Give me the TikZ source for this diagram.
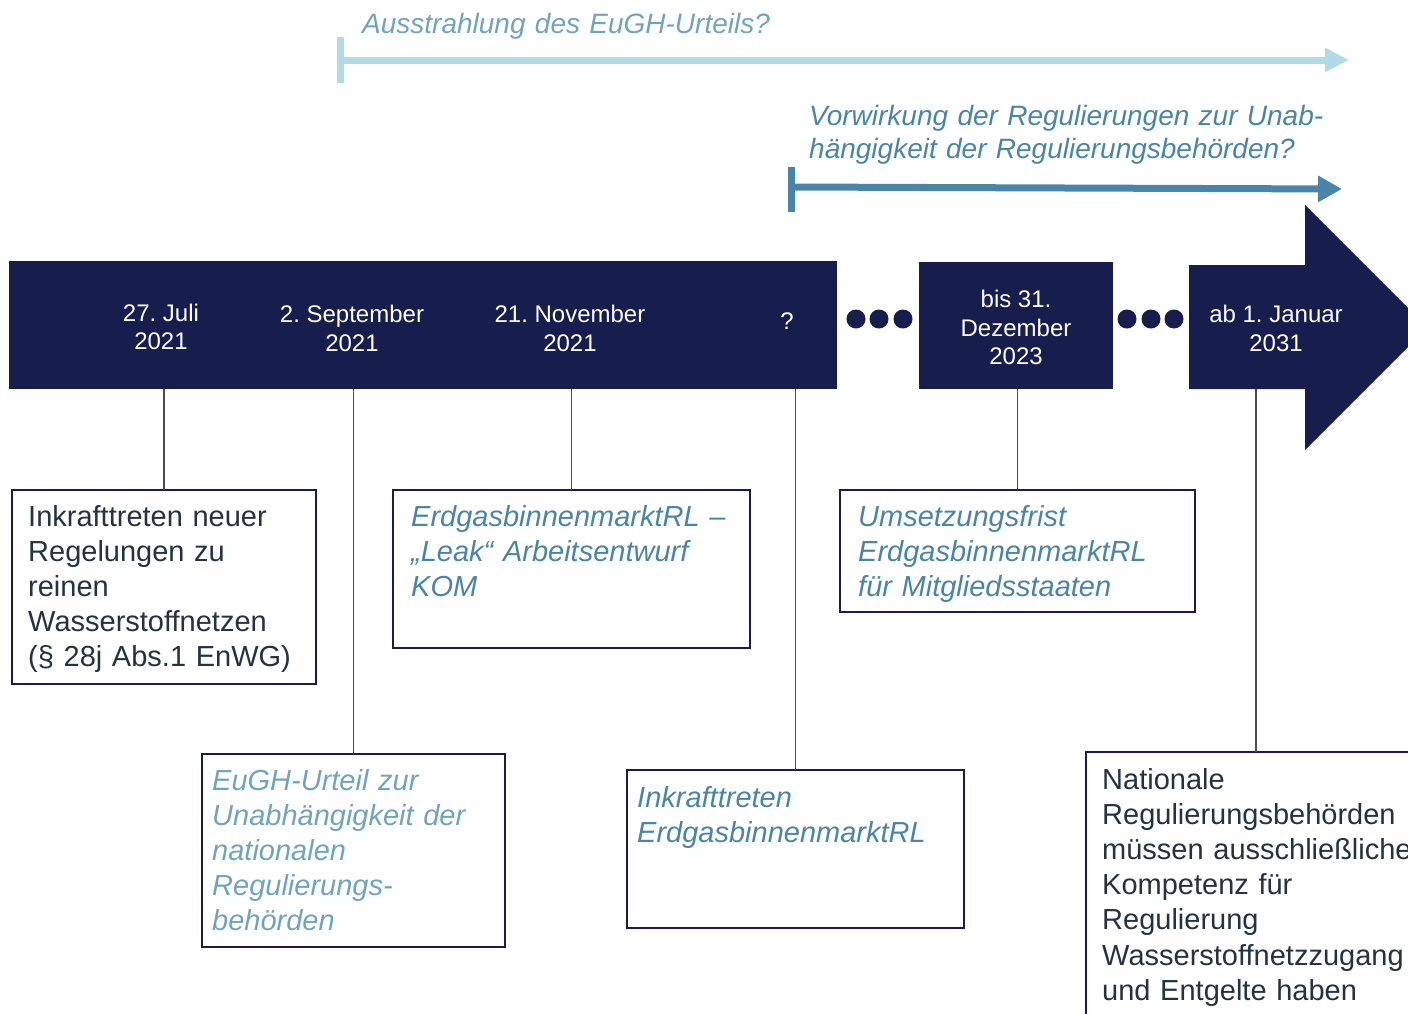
\documentclass[tikz,border=0pt]{standalone}
\usepackage{fontspec}
\setmainfont{Liberation Sans}
\usetikzlibrary{arrows.meta,calc}
\definecolor{navy}{RGB}{23,29,77}
\definecolor{lightline}{RGB}{176,218,230}
\definecolor{ltext}{RGB}{111,164,189}
\definecolor{medblue}{RGB}{72,133,168}
\definecolor{darktext}{RGB}{36,50,66}
\definecolor{conngray}{RGB}{70,76,92}
\frenchspacing
\begin{document}
\begin{tikzpicture}[x=1pt,y=-1pt,
  barbox/.style={fill=navy, draw=none, inner sep=0pt, outer sep=0pt, anchor=north west},
  datetext/.style={text=white, font=\fontsize{24}{28.8}\selectfont, align=center, inner sep=0pt},
  framebox/.style={draw=navy, line width=2.5pt, fill=white, anchor=north west, inner sep=0pt, outer sep=0pt},
  btext/.style={anchor=base west, inner sep=0pt, text width=420pt, align=left, font=\fontsize{29}{35.2}\selectfont},
  bitext/.style={btext, font=\fontsize{29}{35.2}\selectfont\itshape},
  conn/.style={draw=conngray, line width=1.3pt},
  dotnode/.style={circle, fill=navy, draw=none, minimum size=19pt, inner sep=0pt},
  toplabel/.style={anchor=base west, inner sep=0pt, text width=620pt, align=left, font=\fontsize{28}{33.5}\selectfont\itshape}
]
\useasboundingbox (0,0) rectangle (1408,1013);
\clip (0,0) rectangle (1408,1013);

% top arrows
\coordinate (a1s) at (340,60);
\coordinate (a1e) at (1349,60);
\coordinate (a1t) at (340,37);
\coordinate (a1b) at (340,83);
\draw[lightline, line width=7pt, -{Triangle[length=24pt,width=23pt]}] (a1s) -- (a1e);
\draw[lightline, line width=7pt] (a1t) -- (a1b);
\node[toplabel, text=ltext] (lab1) at (362,33) {Ausstrahlung des EuGH-Urteils?};

\coordinate (a2s) at (791,187);
\coordinate (a2e) at (1342,189);
\coordinate (a2t) at (791,167);
\coordinate (a2b) at (791,212);
\draw[medblue, line width=7pt, -{Triangle[length=24pt,width=25pt]}] (a2s) -- (a2e);
\draw[medblue, line width=7pt] (a2t) -- (a2b);
\node[toplabel, text=medblue] (lab2) at (809,125) {Vorwirkung der Regulierungen zur Unab-\\hängigkeit der Regulierungsbehörden?};

% timeline bar
\node[barbox, minimum width=828pt, minimum height=128pt] (bar) at (9,261) {};
\node[barbox, minimum width=194pt, minimum height=127pt] (bar2023) at (919,262) {};
\fill[navy] (1189,265) -- (1305,265) -- (1305,205) -- (1427.5,327.5) -- (1305,450) -- (1305,389) -- (1189,389) -- cycle;
\coordinate (arrowbot) at (1256,389);

\node[dotnode] (p1) at (856,319) {};
\node[dotnode] (p2) at (879,319) {};
\node[dotnode] (p3) at (903,319) {};
\node[dotnode] (p4) at (1127,319) {};
\node[dotnode] (p5) at (1151,319) {};
\node[dotnode] (p6) at (1174,319) {};

\node[datetext] (d1) at (161,327) {27. Juli\\2021};
\node[datetext] (d2) at (352,328.5) {2. September\\2021};
\node[datetext] (d3) at (570,328.5) {21. November\\2021};
\node[datetext] (d4) at (787,321) {?};
\node[datetext] (d5) at (1016,327.5) {bis 31.\\Dezember\\2023};
\node[datetext] (d6) at (1276,328.5) {ab 1. Januar\\2031};

% boxes
\node[framebox, minimum width=304pt, minimum height=194pt] (b1) at (12,490) {};
\node[framebox, minimum width=303pt, minimum height=193pt] (b2) at (202,754) {};
\node[framebox, minimum width=357pt, minimum height=158pt] (b3) at (393,490) {};
\node[framebox, minimum width=337pt, minimum height=158pt] (b4) at (627,770) {};
\node[framebox, minimum width=355pt, minimum height=122pt] (b5) at (840,490) {};
\node[framebox, minimum width=340pt, minimum height=300pt] (b6) at (1086,752) {};

% connectors
\draw[conn] (b1.north) -- (b1.north |- bar.south);
\draw[conn] (b2.north) -- (b2.north |- bar.south);
\draw[conn] (b3.north) -- (b3.north |- bar.south);
\draw[conn] (b4.north) -- (b4.north |- bar.south);
\draw[conn] (b5.north) -- (b5.north |- bar2023.south);
\draw[conn] (b6.north) -- (b6.north |- arrowbot);

% box texts
\node[btext, text=darktext] (t1) at (28,526) {Inkrafttreten neuer\\Regelungen zu\\reinen\\Wasserstoffnetzen\\(§ 28j Abs.1 EnWG)};
\node[bitext, text=ltext] (t2) at (212,790) {EuGH-Urteil zur\\Unabhängigkeit der\\nationalen\\Regulierungs-\\behörden};
\node[bitext, text=medblue] (t3) at (411,526) {ErdgasbinnenmarktRL –\\„Leak“ Arbeitsentwurf\\KOM};
\node[bitext, text=medblue] (t4) at (637,807) {Inkrafttreten\\ErdgasbinnenmarktRL};
\node[bitext, text=medblue] (t5) at (858,526) {Umsetzungsfrist\\ErdgasbinnenmarktRL\\für Mitgliedsstaaten};
\node[btext, text=darktext] (t6) at (1102,789) {Nationale\\Regulierungsbehörden\\müssen ausschließliche\\Kompetenz für\\Regulierung\\Wasserstoffnetzzugang\\und Entgelte haben};
\end{tikzpicture}
\end{document}
